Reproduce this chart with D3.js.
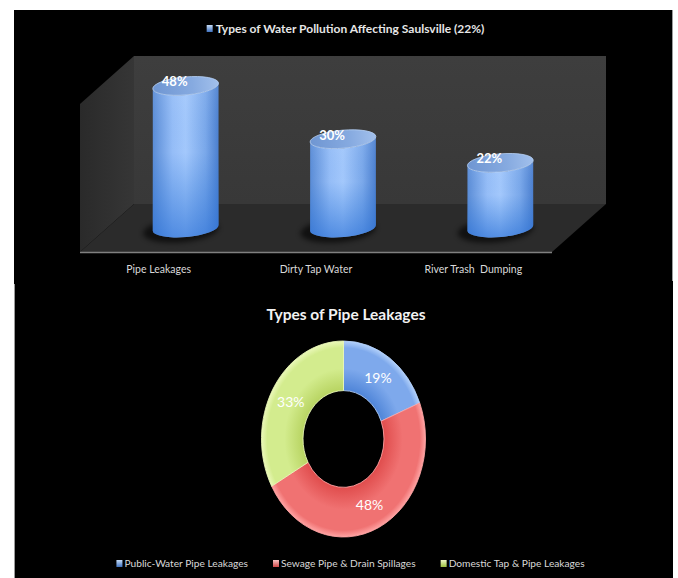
<!DOCTYPE html>
<html>
<head>
<meta charset="utf-8">
<script src="https://cdn.jsdelivr.net/npm/d3@7"></script>
<style>
  html, body { margin: 0; padding: 0; background: #ffffff; }
  svg { display: block; }
  text { font-family: Lato, 'Noto Sans', sans-serif; }
</style>
</head>
<body>
<svg id="chart" width="678" height="578"></svg>
<script>
// ---- data -------------------------------------------------------------
const pollutionTitle = "Types of Water Pollution Affecting Saulsville (22%)";
const pollutionCategories = ["Pipe Leakages", "Dirty Tap Water", "River Trash  Dumping"];
const pollutionShare = [48, 30, 22];

const leakTitle = "Types of Pipe Leakages";
const leakTypes = ["Public-Water Pipe Leakages", "Sewage Pipe & Drain Spillages", "Domestic Tap & Pipe Leakages"];
const leakShare = [19, 48, 33];

// ---- canvas -----------------------------------------------------------
const svg = d3.select("#chart");
const defs = svg.append("defs");

svg.append("rect").attr("x", 14).attr("y", 10).attr("width", 659).attr("height", 568).attr("fill", "#000");
svg.append("line").attr("x1", 672.5).attr("x2", 672.5).attr("y1", 10).attr("y2", 281)
  .attr("stroke", "#9a9a9a").attr("stroke-width", 1);
svg.append("line").attr("x1", 14.5).attr("x2", 14.5).attr("y1", 284).attr("y2", 578)
  .attr("stroke", "#9a9a9a").attr("stroke-width", 1);

// gradients
function linGrad(id, x2, y2, stops) {
  const g = defs.append("linearGradient").attr("id", id)
    .attr("x1", 0).attr("y1", 0).attr("x2", x2).attr("y2", y2);
  stops.forEach(s => g.append("stop").attr("offset", s[0]).attr("stop-color", s[1])
    .attr("stop-opacity", s[2] === undefined ? 1 : s[2]));
  return g;
}
linGrad("cylSide", 1, 0, [[0, "#5a8cd6"], [0.3, "#95bdf7"], [0.5, "#a3c8fc"], [0.8, "#7aa8ea"], [1, "#4b7fcf"]]);
linGrad("cylShade", 0, 1, [[0, "#ffffff", 0.08], [0.45, "#2f78d8", 0.0], [1, "#2a70d6", 0.65]]);
linGrad("cylTop", 1, 0, [[0, "#6f96d2"], [0.6, "#86aae0"], [1, "#a2c0ec"]]);
linGrad("leftWall", 1, 0, [[0, "#2a2a2a"], [1, "#363636"]]);
linGrad("backWall", 0, 1, [[0, "#3e3e3e"], [1, "#383838"]]);
linGrad("sqBlue", 0, 1, [[0, "#c6dcf7"], [1, "#3f72c0"]]);
linGrad("sqRed", 0, 1, [[0, "#f7c3c3"], [1, "#d04646"]]);
linGrad("sqGreen", 0, 1, [[0, "#eef7c6"], [1, "#9cc23e"]]);
const blur = defs.append("filter").attr("id", "soft").attr("x", "-30%").attr("y", "-60%")
  .attr("width", "160%").attr("height", "220%");
blur.append("feGaussianBlur").attr("stdDeviation", 2.5);

// ---- 3D cylinder chart --------------------------------------------------
const frontLeft = 80, frontRight = 552, frontY = 252;
const depthDx = 54, depthDy = -48;                 // floor depth projection
const backY = frontY + depthDy;
const yMax = 50;
const h = d3.scaleLinear().domain([0, yMax]).range([0, 148]);
const wallTop = backY - h(yMax);

const xFront = d3.scaleBand().domain(pollutionCategories).range([frontLeft, frontRight]);
const xMid = d3.scaleBand().domain(pollutionCategories)
  .range([frontLeft + depthDx / 2, frontRight + depthDx / 2]);
const baseY = frontY + depthDy / 2;

const top3d = svg.append("g");
const poly = pts => "M" + pts.map(p => p.join(",")).join("L") + "Z";
// back wall
top3d.append("path").attr("fill", "url(#backWall)")
  .attr("d", poly([[frontLeft + depthDx, wallTop], [frontRight + depthDx, wallTop],
                   [frontRight + depthDx, backY], [frontLeft + depthDx, backY]]));
// side wall
top3d.append("path").attr("fill", "url(#leftWall)")
  .attr("d", poly([[frontLeft, wallTop - depthDy], [frontLeft + depthDx, wallTop],
                   [frontLeft + depthDx, backY], [frontLeft, frontY]]));
// floor
top3d.append("path").attr("fill", "#2b2b2b")
  .attr("d", poly([[frontLeft, frontY], [frontRight, frontY],
                   [frontRight + depthDx, backY], [frontLeft + depthDx, backY]]));
top3d.append("line").attr("x1", frontLeft).attr("x2", frontRight)
  .attr("y1", frontY + 0.5).attr("y2", frontY + 0.5)
  .attr("stroke", "#808080").attr("stroke-width", 1.5);

const rx = 33, ry = 9, tilt = -5;
const tr = tilt * Math.PI / 180;
const ex = rx * Math.cos(tr), ey = rx * Math.sin(tr);

const cyl = top3d.selectAll("g.cyl").data(pollutionCategories.map((c, i) => ({ c, v: pollutionShare[i] })))
  .enter().append("g").attr("class", "cyl");

cyl.each(function (d) {
  const g = d3.select(this);
  const cx = xMid(d.c) + xMid.bandwidth() / 2;
  const ty = baseY - h(d.v);
  // floor shadow
  g.append("ellipse").attr("cx", cx - 5).attr("cy", baseY + 2).attr("rx", rx + 5).attr("ry", ry + 3)
    .attr("transform", `rotate(${tilt},${cx},${baseY})`)
    .attr("fill", "#000").attr("opacity", 0.6).attr("filter", "url(#soft)");
  const body = `M${cx - ex},${ty - ey}L${cx - ex},${baseY - ey}` +
    `A${rx},${ry} ${tilt} 0 0 ${cx + ex},${baseY + ey}L${cx + ex},${ty + ey}` +
    `A${rx},${ry} ${tilt} 0 1 ${cx - ex},${ty - ey}Z`;
  g.append("path").attr("d", body).attr("fill", "url(#cylSide)");
  g.append("path").attr("d", body).attr("fill", "url(#cylShade)");
  g.append("ellipse").attr("cx", cx).attr("cy", ty).attr("rx", rx).attr("ry", ry)
    .attr("transform", `rotate(${tilt},${cx},${ty})`)
    .attr("fill", "url(#cylTop)").attr("stroke", "#b4cff3").attr("stroke-width", 0.8);
  g.append("text").attr("x", cx - 11).attr("y", ty - 4).attr("dy", "0.35em")
    .attr("text-anchor", "middle").attr("fill", "#ffffff").attr("font-weight", "bold")
    .attr("font-size", 13).text(d.v + "%");
});

top3d.selectAll("text.cat").data(pollutionCategories).enter().append("text")
  .attr("class", "cat")
  .attr("x", d => xFront(d) + xFront.bandwidth() / 2).attr("y", 273)
  .attr("text-anchor", "middle").attr("fill", "#d9d9d9").attr("font-size", 10.5)
  .style("white-space", "pre").text(d => d);

// chart title with series key
const t1 = svg.append("text").attr("x", 350).attr("y", 33).attr("text-anchor", "middle")
  .attr("fill", "#e6e6e6").attr("font-size", 12).attr("font-weight", "bold").text(pollutionTitle);
const t1w = t1.node().getComputedTextLength();
svg.append("rect").attr("x", 350 - t1w / 2 - 9).attr("y", 25).attr("width", 6).attr("height", 7)
  .attr("fill", "url(#sqBlue)");

// ---- doughnut chart -----------------------------------------------------
svg.append("text").attr("x", 346).attr("y", 320).attr("text-anchor", "middle")
  .attr("fill", "#f2f2f2").attr("font-size", 15.5).attr("font-weight", "bold").text(leakTitle);

const dcx = 343.5, dcy = 439, rOuter = 82, rInner = 40.5, squash = 1.195;
const sliceBase = ["#7ea9ec", "#f07272", "#d3ec8e"];
const sliceLight = ["#b2d0fa", "#ffa3a3", "#eaf8b8"];
const sliceDark = ["#4f85d8", "#e04d4d", "#b8d462"];
leakTypes.forEach((t, i) => {
  const g = defs.append("radialGradient").attr("id", "slice" + i)
    .attr("gradientUnits", "userSpaceOnUse").attr("cx", 0).attr("cy", 0).attr("r", rOuter);
  g.append("stop").attr("offset", rInner / rOuter).attr("stop-color", sliceDark[i]);
  g.append("stop").attr("offset", 0.72).attr("stop-color", sliceBase[i]);
  g.append("stop").attr("offset", 0.93).attr("stop-color", sliceBase[i]);
  g.append("stop").attr("offset", 1).attr("stop-color", sliceLight[i]);
});

const pie = d3.pie().sort(null).value(d => d)(leakShare);
const arc = d3.arc().innerRadius(rInner).outerRadius(rOuter);
const ring = svg.append("g").attr("transform", `translate(${dcx},${dcy}) scale(1,${squash})`);
ring.selectAll("path").data(pie).enter().append("path")
  .attr("d", arc).attr("fill", (d, i) => `url(#slice${i})`)
  .attr("stroke", (d, i) => sliceLight[i]).attr("stroke-width", 0.8);

const labelArc = d3.arc().innerRadius((rInner + rOuter) / 2).outerRadius((rInner + rOuter) / 2);
svg.selectAll("text.slice").data(pie).enter().append("text").attr("class", "slice")
  .attr("x", d => dcx + labelArc.centroid(d)[0])
  .attr("y", d => dcy + labelArc.centroid(d)[1] * squash)
  .attr("dy", "0.35em").attr("text-anchor", "middle")
  .attr("fill", "#ffffff").attr("font-size", 14).text(d => d.data + "%");

// legend row
const legend = svg.append("g");
const sqFill = ["url(#sqBlue)", "url(#sqRed)", "url(#sqGreen)"];
let lx = 0;
const items = leakTypes.map((t, i) => {
  const it = legend.append("g");
  it.append("rect").attr("x", 0).attr("y", -7).attr("width", 6).attr("height", 7).attr("fill", sqFill[i]);
  const tx = it.append("text").attr("x", 8).attr("y", 0).attr("fill", "#d9d9d9")
    .attr("font-size", 10.2).text(t);
  const w = 8 + tx.node().getComputedTextLength();
  it.attr("transform", `translate(${lx},567)`);
  lx += w + 25;
  return it;
});
const total = lx - 25;
legend.attr("transform", `translate(${350.5 - total / 2},0)`);
</script>
</body>
</html>
